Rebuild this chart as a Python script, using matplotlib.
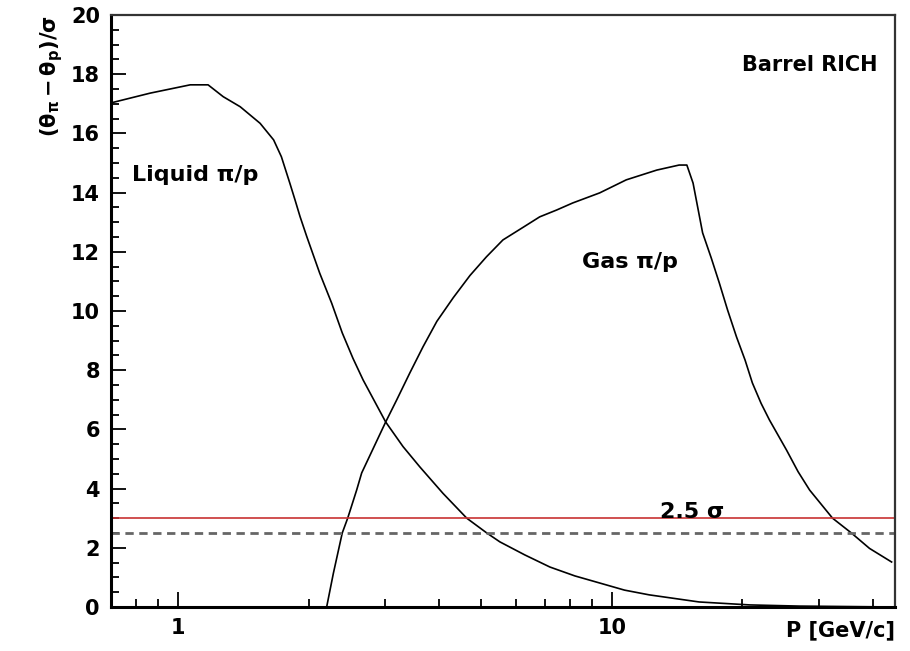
import numpy as np
import matplotlib.pyplot as plt
from matplotlib.ticker import FixedLocator, NullFormatter, FixedFormatter

# momento P [GeV/c] y separacion (theta_pi - theta_p)/sigma
p_liquido = [0.70, 0.862, 1.066, 1.172, 1.27, 1.39, 1.545, 1.66, 1.73, 1.81, 1.86,
             1.91, 1.98, 2.12, 2.26, 2.39, 2.53, 2.67, 3.01, 3.30, 3.61, 4.08, 4.63,
             5.15, 5.52, 6.30, 7.2, 8.22, 9.38, 10.7, 12.2, 15.9, 20.8, 27.1, 45.0]
sep_liquido = [17.03, 17.36, 17.64, 17.64, 17.24, 16.9, 16.34, 15.78, 15.21, 14.31, 13.75,
               13.19, 12.51, 11.28, 10.26, 9.26, 8.4, 7.67, 6.25, 5.42, 4.73, 3.84, 3.0,
               2.5, 2.2, 1.76, 1.35, 1.05, 0.81, 0.57, 0.41, 0.17, 0.07, 0.03, 0.0]

p_gas = [2.20, 2.28, 2.39, 2.46, 2.58, 2.65, 3.01, 3.19, 3.42, 3.67, 3.95, 4.31, 4.71,
         5.14, 5.61, 6.25, 6.82, 7.46, 8.13, 9.38, 10.8, 12.7, 14.3, 14.9, 15.4, 16.2,
         16.97, 17.7, 18.5, 19.4, 20.3, 21.1, 22.1, 23.1, 25.3, 26.9, 28.6, 32.3, 35.7,
         39.3, 44.2]
sep_gas = [0.0, 1.14, 2.5, 3.0, 3.95, 4.53, 6.25, 6.99, 7.9, 8.79, 9.65, 10.45, 11.2,
           11.83, 12.4, 12.83, 13.18, 13.41, 13.65, 13.99, 14.43, 14.76, 14.93, 14.93, 14.32, 12.64,
           11.78, 10.95, 10.03, 9.12, 8.34, 7.57, 6.88, 6.32, 5.3, 4.57, 3.95, 3.0, 2.5,
           1.98, 1.52]

umbral_rojo = 3.0
umbral_25 = 2.5

fig = plt.figure(figsize=(9.1, 6.51), dpi=100)
ax = fig.add_axes([0.122, 0.0676, 0.8615, 0.9094])

ax.plot(p_liquido, sep_liquido, color='black', linewidth=1.2)
ax.plot(p_gas, sep_gas, color='black', linewidth=1.2)
ax.axhline(umbral_rojo, color='#c83232', linewidth=1.2)
ax.axhline(umbral_25, color='#666666', linewidth=2.0, linestyle=(0, (3, 2)))

ax.set_xscale('log')
ax.set_xlim(0.7, 45)
ax.set_ylim(0, 20)

ax.xaxis.set_major_locator(FixedLocator([1, 10]))
ax.xaxis.set_major_formatter(FixedFormatter(['1', '10']))
ax.xaxis.set_minor_locator(FixedLocator([0.8, 0.9, 2, 3, 4, 5, 6, 7, 8, 9, 20, 30, 40]))
ax.xaxis.set_minor_formatter(NullFormatter())
ax.yaxis.set_major_locator(FixedLocator(np.arange(0, 21, 2)))
ax.yaxis.set_minor_locator(FixedLocator(np.arange(0, 20.1, 0.5)))

ax.tick_params(which='both', direction='in', top=False, right=False, width=1.3)
ax.tick_params(which='major', length=11, labelsize=15, pad=8)
ax.tick_params(which='minor', length=5.5)
for lab in ax.get_xticklabels() + ax.get_yticklabels():
    lab.set_fontweight('bold')

for lado in ['left', 'bottom']:
    ax.spines[lado].set_linewidth(2.2)
for lado in ['top', 'right']:
    ax.spines[lado].set_linewidth(1.6)
    ax.spines[lado].set_color('#333333')

ax.set_xlabel('P [GeV/c]', fontsize=15, fontweight='bold', ha='right')
ax.xaxis.set_label_coords(1.0, -0.022)
ax.set_ylabel(r'$\mathbf{(\theta_{\pi}-\theta_{p})/\sigma}$', fontsize=15, loc='top', labelpad=4)

ax.text(0.784, 14.6, 'Liquid \u03c0/p', fontsize=16, fontweight='bold', va='center', ha='left')
ax.text(8.53, 11.65, 'Gas \u03c0/p', fontsize=16, fontweight='bold', va='center', ha='left')
ax.text(41, 18.3, 'Barrel RICH', fontsize=15, fontweight='bold', va='center', ha='right')
ax.text(15.3, 3.2, '2.5 \u03c3', fontsize=16, fontweight='bold', va='center', ha='center')

fig.savefig('out.png', dpi=100)
